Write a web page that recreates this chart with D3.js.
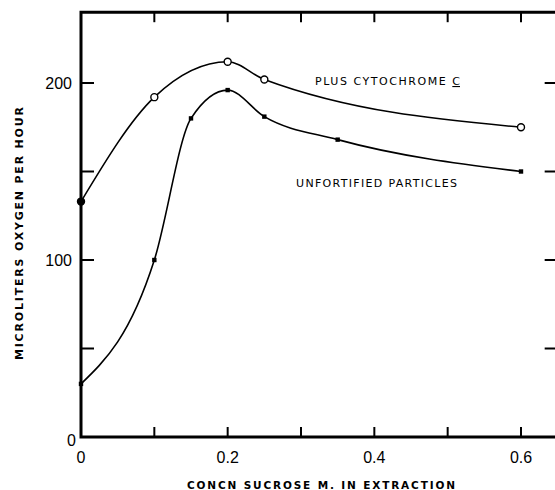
<!DOCTYPE html>
<html><head><meta charset="utf-8">
<script src="https://cdn.jsdelivr.net/npm/d3@7"></script>
<style>body{margin:0;background:#fff}svg{display:block}</style>
</head><body>
<script>
const cytoX = [0, 0.1, 0.2, 0.25, 0.6];
const cytoY = [133, 192, 212, 202, 175];
const unfX = [0, 0.1, 0.15, 0.2, 0.25, 0.35, 0.6];
const unfY = [30, 100, 180, 196, 181, 168, 150];
const xTickLabels = [0, 0.2, 0.4, 0.6];
const xTicks = [0, 0.1, 0.2, 0.3, 0.4, 0.5, 0.6];
const yTickLabels = [0, 100, 200];
const yTicks = [0, 50, 100, 150, 200];

const W = 555, H = 490;
const svg = d3.select("body").append("svg").attr("width", W).attr("height", H);
const x = d3.scaleLinear().domain([0, 0.6]).range([81, 521]);
const y = d3.scaleLinear().domain([0, 100]).range([437, 260]);
const xMax = 0.65, yMax = 240;

// frame
const g = svg.append("g").attr("stroke", "#000").attr("fill", "none");
g.append("path").attr("stroke-width", 3)
  .attr("d", `M${x(xMax)},${y(yMax)}H${x(0)}V${y(0)}H${x(xMax)}V${y(yMax)}`);

// ticks
const tl = 10;
xTicks.forEach(t => {
  if (t === 0) return;
  g.append("line").attr("stroke-width", 2).attr("x1", x(t)).attr("x2", x(t)).attr("y1", y(0)).attr("y2", y(0) - tl);
  g.append("line").attr("stroke-width", 2).attr("x1", x(t)).attr("x2", x(t)).attr("y1", y(yMax)).attr("y2", y(yMax) + tl);
});
yTicks.forEach(t => {
  if (t === 0) return;
  g.append("line").attr("stroke-width", 2).attr("x1", x(0)).attr("x2", x(0) + 13).attr("y1", y(t)).attr("y2", y(t));
  g.append("line").attr("stroke-width", 2).attr("x1", x(xMax)).attr("x2", x(xMax) - 13).attr("y1", y(t)).attr("y2", y(t));
});

const tickFont = "Liberation Sans, Arial, sans-serif";
svg.selectAll(".xl").data(xTickLabels).enter().append("text")
  .attr("x", d => x(d)).attr("y", 463).attr("text-anchor", "middle")
  .attr("font-family", tickFont).attr("font-size", 16)
  .text(d => d === 0 ? "0" : String(d));
svg.selectAll(".yl").data(yTickLabels).enter().append("text")
  .attr("x", d => d === 0 ? 76 : 72).attr("y", d => d === 0 ? y(d) + 9 : y(d) + 6).attr("text-anchor", "end")
  .attr("font-family", tickFont).attr("font-size", 16)
  .text(d => String(d));

// axis titles
svg.append("text").attr("x", 187).attr("y", 489)
  .attr("font-family", "DejaVu Sans, sans-serif").attr("font-weight", "bold").attr("font-size", 10.5)
  .attr("textLength", 268).attr("lengthAdjust", "spacing").text("CONCN SUCROSE M. IN EXTRACTION");
svg.append("text").attr("transform", "translate(23,360) rotate(-90)")
  .attr("font-family", "DejaVu Sans, sans-serif").attr("font-weight", "bold").attr("font-size", 11)
  .attr("textLength", 253).attr("lengthAdjust", "spacing").text("MICROLITERS OXYGEN PER HOUR");

// curves
const line = d3.line().curve(d3.curveMonotoneX).x(d => x(d[0])).y(d => y(d[1]));
const cyto = cytoX.map((v, i) => [v, cytoY[i]]);
const unf = unfX.map((v, i) => [v, unfY[i]]);
g.append("path").attr("stroke-width", 1.6).attr("d", line(cyto));
g.append("path").attr("stroke-width", 1.6).attr("d", line(unf));

// markers
svg.selectAll(".cm").data(cyto).enter().append("circle")
  .attr("cx", d => x(d[0])).attr("cy", d => y(d[1]))
  .attr("r", 3.5)
  .attr("fill", d => d[0] === 0 ? "#000" : "#fff").attr("stroke", "#000").attr("stroke-width", 1.4);
svg.selectAll(".um").data(unf).enter().append("rect")
  .attr("x", d => x(d[0]) - 2.2).attr("y", d => y(d[1]) - 2.2)
  .attr("width", 4.4).attr("height", 4.4).attr("fill", "#000");

// labels
const lab = "DejaVu Sans, sans-serif";
const t1 = svg.append("text").attr("x", 315).attr("y", 85).attr("font-family", lab).attr("font-size", 11)
  .attr("textLength", 145).attr("lengthAdjust", "spacing");
t1.append("tspan").text("PLUS CYTOCHROME ");
t1.append("tspan").attr("text-decoration", "underline").text("C");
svg.append("text").attr("x", 296).attr("y", 187).attr("font-family", lab).attr("font-size", 11)
  .attr("textLength", 161).attr("lengthAdjust", "spacing").text("UNFORTIFIED PARTICLES");
</script>
</body></html>
